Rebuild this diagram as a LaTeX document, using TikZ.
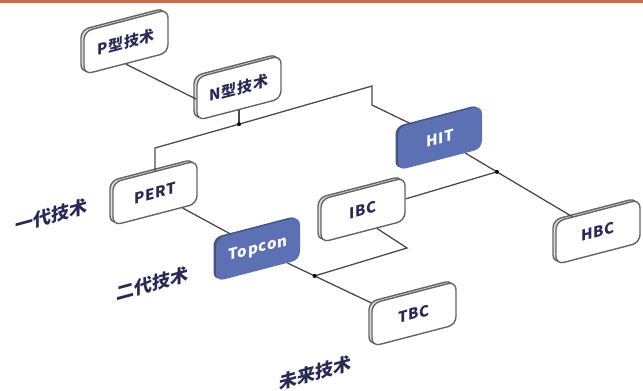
\documentclass[tikz,border=0pt]{standalone}
\usepackage{fontspec}
\setmainfont{Noto Sans CJK SC}
\newfontfamily\boxfont{Noto Sans CJK SC}[LetterSpace=5]
\usetikzlibrary{positioning,calc,shadows}
\definecolor{navy}{RGB}{40,42,86}
\definecolor{boxgray}{RGB}{100,100,100}
\definecolor{linegray}{RGB}{75,75,75}
\definecolor{hitblue}{RGB}{92,112,180}
\definecolor{topbar}{RGB}{197,110,78}

\begin{document}
\begin{tikzpicture}[x=1pt, y=-1pt,
    tbox/.style={rounded corners=8pt, minimum width=84pt, minimum height=43pt, inner sep=0pt,
        yslant=0.26, transform shape, font=\boxfont\bfseries\fontsize{15}{15}\selectfont},
    wbox/.style={tbox, draw=boxgray, line width=1.4pt, fill=white, text=navy,
        copy shadow={shadow xshift=-3pt, shadow yshift=1.5pt, draw=boxgray, fill=gray!25}},
    bbox/.style={tbox, fill=hitblue, text=white,
        copy shadow={shadow xshift=-2.5pt, shadow yshift=1pt, fill=hitblue!75!black, draw=none}},
    gen/.style={yslant=0.27, transform shape, text=navy, font=\bfseries\fontsize{18}{18}\selectfont},
    link/.style={draw=linegray, line width=1.3pt},
    jdot/.style={circle, fill=black, inner sep=0pt, minimum size=4pt}]
    \useasboundingbox (0,0) rectangle (643,391);
    \fill[topbar] (0,0) rectangle (643,3);

    \node[wbox] (P) at (126,42) {P型技术};
    \node[wbox] (N) at (239,88) {N型技术};
    \node[wbox] (PERT) at (155,193) {PERT};
    \node[bbox] (Topcon) at (258,249) {Topcon};
    \node[wbox] (IBC) at (363,210) {IBC};
    \node[bbox] (HIT) at (440,138) {HIT};
    \node[wbox] (HBC) at (598,232) {HBC};
    \node[wbox] (TBC) at (414,314) {TBC};

    \node[gen] (gen1) at (52,216) {一代技术};
    \node[gen] (gen2) at (152,284) {二代技术};
    \node[gen] (gen3) at (315,373) {未来技术};

    % branch points
    \coordinate (j1) at ([yshift=-14pt]N.south);
    \coordinate (cL) at (155,148);
    \coordinate (cR1) at (372,86);
    \coordinate (cR2) at (372,105);
    \coordinate (j2) at ($(HIT)!0.36!(HBC)$);
    \coordinate (j3) at ($(Topcon)!0.5!(TBC.north west)$);
    \coordinate (cI) at (407,248);

    \draw[link] (P.south) -- (N.west);
    \draw[link] (N.south) -- (j1);
    \draw[link] (PERT.north) -- (cL) -- (j1) -- (cR1) -- (cR2) -- (HIT);
    \draw[link] (PERT) -- (Topcon);
    \draw[link] (HIT) -- (HBC);
    \draw[link] (j2) -- (IBC.east);
    \draw[link] (Topcon) -- (TBC.north west);
    \draw[link] (j3) -- (cI) -- ($(IBC.south)!0.33!(IBC.south east)$);

    \node[jdot] (d1) at (j1) {};
    \node[jdot] (d2) at (j2) {};
    \node[jdot] (d3) at (j3) {};
\end{tikzpicture}
\end{document}
